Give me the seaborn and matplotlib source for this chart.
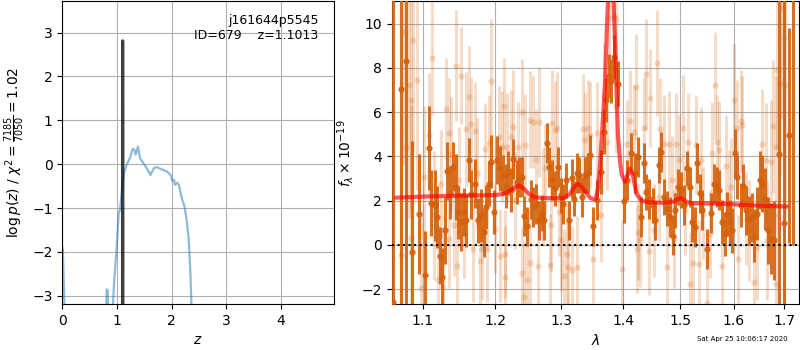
import matplotlib
matplotlib.use("Agg")
import matplotlib.pyplot as plt
import seaborn as sns
from matplotlib.ticker import NullLocator

# redshift grid and log p(z)
pz_z = [0.0, 0.01, 0.03, 0.05, 0.1, 0.75, 0.80, 0.81, 0.83, 0.84, 0.87, 0.90,
        0.95, 0.99, 1.03, 1.05, 1.07, 1.10, 1.13, 1.17, 1.21, 1.24, 1.27, 1.29,
        1.32, 1.34, 1.36, 1.38, 1.40, 1.42, 1.47, 1.52, 1.57, 1.61, 1.64, 1.68,
        1.73, 1.82, 1.90, 1.96, 1.99, 2.01, 2.04, 2.06, 2.10, 2.13, 2.16, 2.19,
        2.23, 2.27, 2.31, 2.34, 2.37, 2.40, 2.5, 4.96]
pz_logp = [-1.88, -2.0, -2.9, -4.0, -8.0, -8.0, -3.3, -2.85, -2.88, -3.4, -5.0, -3.8,
           -2.6, -1.95, -1.1, -1.05, -0.85, -0.45, -0.18, -0.03, 0.08, 0.15, 0.3, 0.35,
           0.32, 0.22, 0.3, 0.4, 0.28, 0.13, 0.04, -0.05, -0.15, -0.25, -0.17, -0.08,
           -0.07, -0.12, -0.16, -0.22, -0.27, -0.38, -0.36, -0.47, -0.42, -0.47, -0.65, -0.8,
           -0.95, -1.25, -1.7, -2.45, -3.6, -5.0, -9.0, -9.0]

# fine grid around the best redshift
peak_z = [1.0995, 1.1005, 1.1013, 1.1021, 1.1031]
peak_logp = [-8.0, 0.5, 2.81, 0.5, -8.0]

z_best = 1.1013
chi2_text = r"$\log p(z)$ / $\chi^2=\frac{7185}{7050}=1.02$"

# spectrum, first beam (dark)
wave_a = [1.0614, 1.0720, 1.0785, 1.0863, 1.0947, 1.1035, 1.1080, 1.1115, 1.1160, 1.1191,
          1.1228, 1.1259, 1.1304, 1.1332, 1.1372, 1.1409, 1.1446, 1.1482, 1.1519, 1.1565,
          1.1593, 1.1631, 1.1663, 1.1719, 1.1757, 1.1796, 1.1839, 1.1876, 1.1910, 1.1947,
          1.1991, 1.2034, 1.2073, 1.2112, 1.2156, 1.2194, 1.2234, 1.2268, 1.2318, 1.2357,
          1.2402, 1.2432, 1.2477, 1.2528, 1.2567, 1.2608, 1.2654, 1.2695, 1.2730, 1.2771,
          1.2811, 1.2853, 1.2899, 1.2941, 1.2988, 1.3029, 1.3071, 1.3114, 1.3161, 1.3198,
          1.3241, 1.3283, 1.3331, 1.3374, 1.3418, 1.3454, 1.3498, 1.3568, 1.3639, 1.3678,
          1.3721, 1.3761, 1.3804, 1.3849, 1.3911, 1.4012, 1.4067, 1.4140, 1.4198, 1.4255,
          1.4307, 1.4353, 1.4398, 1.4450, 1.4509, 1.4555, 1.4614, 1.4660, 1.4703, 1.4761,
          1.4809, 1.4863, 1.4910, 1.4958, 1.5018, 1.5073, 1.5122, 1.5171, 1.5212, 1.5262,
          1.5299, 1.5359, 1.5402, 1.5495, 1.5559, 1.5621, 1.5672, 1.5715, 1.5766, 1.5823,
          1.5873, 1.5924, 1.5969, 1.6015, 1.6065, 1.6131, 1.6181, 1.6240, 1.6293, 1.6346,
          1.6398, 1.6457, 1.6510, 1.6556, 1.6610, 1.6670, 1.6724, 1.6791, 1.6892, 1.6994,
          1.7106, 1.7168]
flux_a = [-2.6, 7.05, 8.3, -0.33, 1.4, -1.36, 4.39, 1.9, 1.79, 1.25,
          -0.49, -1.44, 0.65, 3.33, 2.35, 3.53, 2.62, 1.48, 1.03, 1.48,
          1.1, 3.83, 2.29, 2.77, 1.1, 1.33, 0.57, 1.71, 2.77, 3.75,
          1.48, 3.83, 3.45, 3.15, 2.66, 3.23, 2.47, 3.86, 2.85, 3.07,
          3.07, 1.29, 0.83, 2.05, 1.71, 1.86, 1.1, 1.41, 1.1, 4.59,
          3.53, 2.92, 2.55, 3.53, 2.24, 1.86, 2.92, 1.1, 3.0, 2.09,
          3.23, 3.15, 2.16, 3.15, 3.23, 4.06, 0.83, 2.01, 3.3, 5.12,
          6.56, 7.62, 7.4, 8.5, 7.29, 2.0, 2.92, 4.14, 3.23, 3.98,
          1.25, 3.68, 2.39, 2.09, 1.79, 1.1, 3.6, 4.21, 2.16, 1.64,
          1.25, 0.42, 1.56, 2.62, 2.47, 1.79, 3.45, 2.62, 1.03, 0.8,
          3.68, 2.32, 1.56, -0.18, 1.45, 2.77, 2.62, 2.47, 1.03, 0.5,
          1.41, 1.03, 0.65, 4.14, 3.07, 1.79, 2.66, 1.56, 1.1, 1.25,
          0.42, 1.41, 2.92, 2.77, 2.05, 0.65, 0.27, 0.2, 4.1, 1.0,
          4.95, 12.0]
err_a = [20, 20, 15, 5, 2.7, 2.0, 1.9, 1.5, 1.6, 1.4,
         1.3, 1.3, 1.5, 1.3, 1.2, 1.1, 1.5, 1.2, 1.3, 1.1,
         1.2, 1.0, 1.1, 1.1, 1.0, 1.2, 1.1, 1.0, 1.0, 1.2,
         1.0, 1.1, 1.0, 0.9, 1.0, 1.0, 1.0, 0.9, 1.0, 0.9,
         0.9, 0.9, 0.9, 0.9, 0.9, 0.9, 0.9, 0.8, 0.9, 0.9,
         0.9, 0.9, 0.8, 0.9, 0.8, 0.9, 0.8, 0.9, 0.9, 0.8,
         0.9, 0.8, 0.9, 0.8, 0.9, 0.9, 0.9, 0.9, 1.0, 1.0,
         1.0, 1.0, 1.0, 1.0, 1.0, 1.0, 0.9, 0.9, 0.9, 0.9,
         0.9, 0.9, 0.8, 0.9, 0.8, 0.9, 0.8, 0.9, 0.8, 0.8,
         0.9, 0.9, 0.8, 0.8, 0.8, 0.9, 0.8, 0.9, 0.9, 0.9,
         0.9, 0.9, 0.9, 0.9, 0.9, 0.9, 0.9, 0.9, 1.0, 1.0,
         1.0, 1.0, 1.0, 1.1, 1.0, 1.0, 1.0, 1.1, 1.1, 1.1,
         1.2, 1.2, 1.3, 1.3, 1.4, 1.5, 1.6, 1.8, 12, 15,
         4.85, 12]

# spectrum, second beam (light)
wave_b = [1.0716, 1.0742, 1.0781, 1.0816, 1.0842, 1.0850, 1.0872, 1.0929, 1.0978, 1.1022,
          1.1088, 1.1124, 1.1151, 1.1204, 1.1249, 1.1272, 1.1317, 1.1349, 1.1353, 1.1386,
          1.1423, 1.1455, 1.1462, 1.1492, 1.1523, 1.1561, 1.1584, 1.1631, 1.1663, 1.1687,
          1.1719, 1.1748, 1.1782, 1.1819, 1.1853, 1.1891, 1.1914, 1.1947, 1.2001, 1.2063,
          1.2066, 1.2098, 1.2131, 1.2146, 1.2139, 1.2180, 1.2229, 1.2259, 1.2293, 1.2342,
          1.2393, 1.2402, 1.2442, 1.2432, 1.2467, 1.2517, 1.2520, 1.2567, 1.2604, 1.2643,
          1.2658, 1.2719, 1.2745, 1.2822, 1.2837, 1.2848, 1.2899, 1.2925, 1.2966, 1.2988,
          1.3040, 1.3083, 1.3108, 1.3161, 1.3250, 1.3337, 1.3374, 1.3427, 1.3454, 1.3511,
          1.3568, 1.3639, 1.3678, 1.3733, 1.3761, 1.3844, 1.3882, 1.3887, 1.3983, 1.4067,
          1.4123, 1.4181, 1.4221, 1.4229, 1.4250, 1.4294, 1.4353, 1.4398, 1.4440, 1.4467,
          1.4527, 1.4585, 1.4614, 1.4643, 1.4703, 1.4761, 1.4802, 1.4851, 1.4881, 1.4928,
          1.4982, 1.5043, 1.5091, 1.5134, 1.5181, 1.5226, 1.5277, 1.5341, 1.5372, 1.5421,
          1.5495, 1.5545, 1.5589, 1.5639, 1.5683, 1.5715, 1.5778, 1.5843, 1.5905, 1.5938,
          1.6002, 1.6065, 1.6075, 1.6131, 1.6162, 1.6228, 1.6293, 1.6391, 1.6457, 1.6556,
          1.6624, 1.6656, 1.6724, 1.6777, 1.6825, 1.6829, 1.6858, 1.6912, 1.6959, 1.6994, 1.7015]
flux_b = [-0.44, 9.6, 4.4, 7.2, 0.3, 6.56, 9.24, 7.47, -1.93, 3.07,
          4.97, 8.45, 1.33, -1.59, 2.77, -1.9, 6.14, 5.05, 0.27, 4.1,
          0.88, 8.1, -0.94, 2.92, 7.65, 0.5, 5.23, 6.68, 5.47, -0.18,
          5.16, 3.23, -0.71, -0.18, 4.32, -0.18, 4.59, 7.39, 0.73, 4.89,
          -0.49, 4.44, 6.26, -0.41, -1.44, 4.44, 4.89, 5.31, 2.01, 4.44,
          6.0, -1.25, 4.51, -2.35, -1.59, 5.65, -0.82, 5.55, 3.83, -0.94,
          5.55, 2.16, 3.45, -0.9, 0.88, 5.5, 5.2, 5.3, 1.48, 0.2,
          -1.4, -0.41, -1.02, -1.14, -0.99, 5.24, 4.74, 5.27, 4.97, -0.64,
          5.05, 1.33, 6.71, 4.66, 10.27, 10.35, 10.2, 6.26, -1.1, 4.56,
          5.58, 5.12, 7.14, -0.18, 0.6, 0.2, 5.27, 7.7, -0.26, 6.64,
          0.65, 8.2, 2.16, 5.23, 4.55, -1.02, 4.55, 2.92, 0.27, 4.55,
          3.83, 5.27, 1.56, 4.66, -1.77, -0.82, 4.51, -0.86, 3.83, 1.41,
          -2.65, 0.5, 4.14, 7.2, 4.66, 4.29, -0.94, 3.56, 2.2, 2.62,
          6.56, 5.27, -0.64, 5.58, 5.42, 1.18, 0.65, -1.7, -0.11, 4.56,
          3.83, 0.2, 3.75, 5.35, 4.44, -1.77, 7.92, 7.32, 10.7, 9.33, 7.24]
err_b = [6, 6, 5.5, 6, 6, 5, 5, 5, 3.5, 3.2,
         2.8, 2.6, 2.9, 2.5, 2.4, 2.7, 2.3, 2.5, 2.2, 2.6,
         2.3, 2.5, 2.1, 2.4, 2.2, 2.0, 2.6, 2.3, 2.1, 2.4,
         2.2, 2.5, 2.0, 2.3, 2.1, 2.4, 2.2, 2.8, 2.0, 2.3,
         2.1, 2.5, 2.2, 2.0, 2.3, 2.4, 2.1, 2.6, 2.2, 2.0,
         2.4, 2.1, 2.3, 2.5, 2.0, 2.2, 2.4, 2.1, 2.3, 2.0,
         2.5, 2.2, 2.0, 2.3, 2.1, 2.4, 2.2, 2.5, 2.0, 2.3,
         2.1, 2.4, 2.2, 2.0, 2.3, 2.5, 2.1, 2.2, 2.4, 2.0,
         2.3, 2.1, 2.4, 2.2, 2.5, 2.4, 2.3, 2.1, 2.2, 2.0,
         2.3, 2.1, 2.4, 2.0, 2.2, 2.1, 2.3, 2.5, 2.0, 2.2,
         2.1, 2.4, 2.0, 2.3, 2.2, 2.1, 2.4, 2.0, 2.2, 2.3,
         2.1, 2.4, 2.0, 2.2, 2.3, 2.1, 2.2, 2.0, 2.4, 2.1,
         2.2, 2.0, 2.3, 2.4, 2.1, 2.2, 2.0, 2.3, 2.1, 2.2,
         2.5, 2.2, 2.0, 2.3, 2.2, 2.1, 2.3, 2.2, 2.4, 2.5,
         2.6, 2.7, 2.8, 3.0, 3.2, 3.2, 3.6, 4.2, 5.0, 5.5, 6.0]

# best-fit model
model_wave = [1.065, 1.10, 1.15, 1.20, 1.212, 1.222, 1.230, 1.236, 1.242, 1.250,
              1.258, 1.27, 1.29, 1.305, 1.313, 1.320, 1.326, 1.332, 1.339, 1.346,
              1.352, 1.3552, 1.3585, 1.3617, 1.3650, 1.3700, 1.3733, 1.3749, 1.3770, 1.3795,
              1.3820, 1.3840, 1.3865, 1.3897, 1.3914, 1.3949, 1.3976, 1.4032, 1.4074, 1.4118,
              1.4169, 1.4230, 1.4316, 1.445, 1.470, 1.488, 1.495, 1.500, 1.505, 1.512,
              1.525, 1.560, 1.600, 1.650, 1.705]
model_flux = [2.13, 2.18, 2.22, 2.25, 2.3, 2.45, 2.62, 2.68, 2.55, 2.3,
              2.16, 2.12, 2.1, 2.12, 2.3, 2.6, 2.75, 2.62, 2.35, 2.12,
              2.05, 2.1, 2.6, 3.6, 5.0, 7.3, 10.0, 11.0, 12.2, 12.6,
              12.1, 11.0, 9.3, 6.5, 5.0, 3.8, 3.2, 2.85, 3.15, 3.45,
              3.1, 2.3, 2.0, 1.92, 1.9, 1.95, 2.05, 2.12, 2.05, 1.92,
              1.88, 1.87, 1.83, 1.77, 1.73]

wave_ticks = [1.1, 1.2, 1.3, 1.4, 1.5, 1.6, 1.7]

sns.set_style("ticks", {"axes.grid": True, "grid.color": "#b0b0b0",
                        "axes.edgecolor": "black", "xtick.color": "black",
                        "ytick.color": "black", "axes.labelcolor": "black",
                        "text.color": "black"})
plt.rcParams.update({"font.family": ["DejaVu Sans"], "font.size": 10,
                     "xtick.labelsize": 10, "ytick.labelsize": 10,
                     "axes.labelsize": 10, "axes.linewidth": 0.8,
                     "xtick.major.size": 3.5, "ytick.major.size": 3.5,
                     "xtick.major.width": 0.8, "ytick.major.width": 0.8,
                     "grid.linewidth": 0.8})

orange = "#d4600a"

fig = plt.figure(figsize=(8, 3.5), dpi=100)
ax1 = fig.add_axes([0.078, 0.131, 0.339, 0.865])
ax2 = fig.add_axes([0.4896, 0.131, 0.5091, 0.865])

# left: p(z)
sns.lineplot(x=pz_z, y=pz_logp, ax=ax1, color="tab:blue", alpha=0.5,
             linewidth=1.6, estimator=None, sort=False)
sns.lineplot(x=peak_z, y=peak_logp, ax=ax1, color="black", alpha=0.75,
             linewidth=2.3, estimator=None, sort=False)
ax1.set_xlim(0, 4.96)
ax1.set_ylim(-3.19, 3.71)
ax1.set_xticks([0, 1, 2, 3, 4])
ax1.set_yticks([-3, -2, -1, 0, 1, 2, 3])
ax1.set_xlabel(r"$z$")
ax1.set_ylabel(chi2_text)
ax1.text(0.945, 0.96, "j161644p5545\nID=679    z={0:.4f}".format(z_best),
         ha="right", va="top", transform=ax1.transAxes, fontsize=9)

# right: spectrum
ax2.set_xscale("log")
ax2.errorbar(wave_b, flux_b, yerr=err_b, fmt="o", color=orange, alpha=0.22,
             ms=4.5, elinewidth=2.2, mew=0, zorder=2)
ax2.errorbar(wave_a, flux_a, yerr=err_a, fmt="o", color=orange, alpha=0.9,
             ms=4.5, elinewidth=2.2, mew=0, zorder=3)
sns.lineplot(x=model_wave, y=model_flux, ax=ax2, color="red", alpha=0.65,
             linewidth=3, estimator=None, sort=False, zorder=4)
ax2.axhline(0, color="black", linestyle=":", linewidth=1.5, zorder=5)
ax2.set_xlim(1.0597, 1.7302)
ax2.set_ylim(-2.68, 11.0)
ax2.set_xticks(wave_ticks)
ax2.set_xticklabels([str(t) for t in wave_ticks])
ax2.xaxis.set_minor_locator(NullLocator())
ax2.set_yticks([-2, 0, 2, 4, 6, 8, 10])
ax2.set_xlabel(r"$\lambda$")
ax2.set_ylabel(r"$f_\lambda \times 10^{-19}$")

for ax in (ax1, ax2):
    ax.set_axisbelow(True)
    for s in ax.spines.values():
        s.set_visible(True)

fig.text(0.985, 0.022, "Sat Apr 25 10:06:17 2020", ha="right", va="bottom",
         fontsize=5)

fig.savefig("out.png", dpi=100)
